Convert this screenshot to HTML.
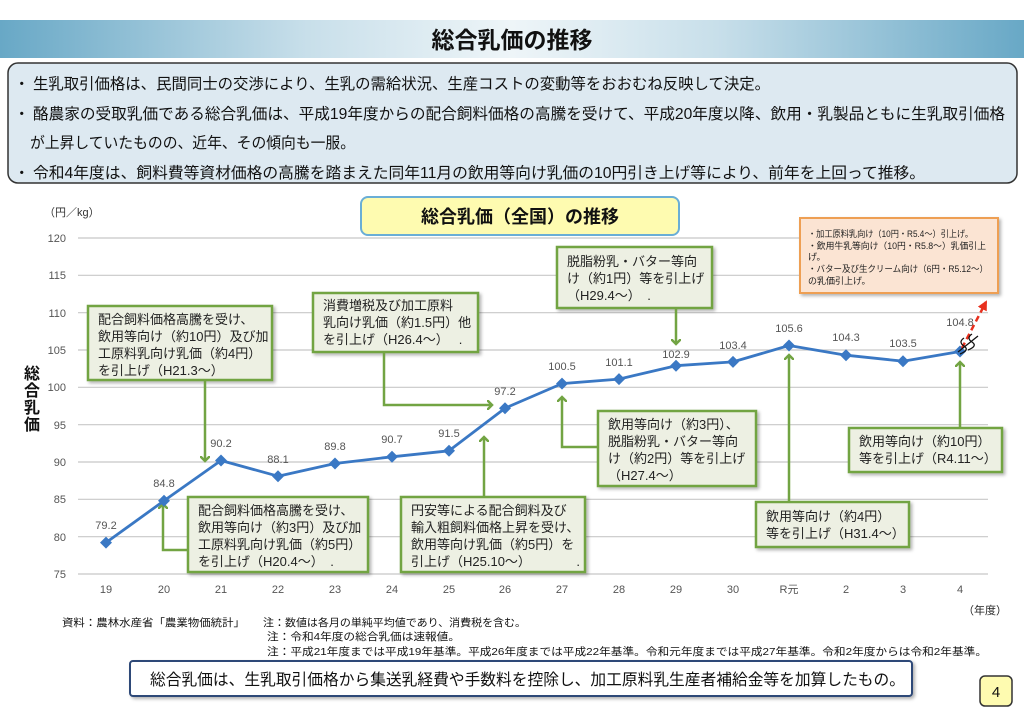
<!DOCTYPE html>
<html><head><meta charset="utf-8"><style>
html,body{margin:0;padding:0;background:#fff;}
svg{display:block;}
text{font-family:"Liberation Sans","Noto Sans CJK JP",sans-serif;}
</style></head><body>
<svg width="1024" height="708" viewBox="0 0 1024 708" xmlns="http://www.w3.org/2000/svg">
<defs>
<linearGradient id="tg" x1="0" x2="1" y1="0" y2="0">
<stop offset="0" stop-color="#68a8c6"/><stop offset="0.3" stop-color="#c8dfea"/><stop offset="0.5" stop-color="#eef5f8"/><stop offset="0.7" stop-color="#c8dfea"/><stop offset="1" stop-color="#68a8c6"/>
</linearGradient>
<marker id="ga" markerWidth="10" markerHeight="10" refX="5" refY="5" orient="auto" markerUnits="userSpaceOnUse">
<path d="M0,0 L5,5 L0,10" fill="none" stroke="#72a443" stroke-width="2.5"/>
</marker>
<marker id="ra" markerWidth="10" markerHeight="10" refX="8" refY="5" orient="auto" markerUnits="userSpaceOnUse">
<path d="M0,0 L10,5 L0,10 z" fill="#e8301e"/>
</marker>
<filter id="sh" x="-5%" y="-5%" width="115%" height="125%"><feDropShadow dx="2" dy="2" stdDeviation="1.5" flood-color="#000" flood-opacity="0.3"/></filter>
</defs>

<rect x="0" y="20" width="1024" height="38" fill="url(#tg)"/>
<text x="512" y="48" font-size="23" font-weight="bold" text-anchor="middle" fill="#111">総合乳価の推移</text>

<rect x="8" y="63" width="1009" height="120" rx="10" fill="#dde9f1" stroke="#333" stroke-width="1.5"/>
<g font-size="15.5" fill="#111">
<text x="14" y="89">・</text><text x="33" y="89" textLength="737" lengthAdjust="spacingAndGlyphs">生乳取引価格は、民間同士の交渉により、生乳の需給状況、生産コストの変動等をおおむね反映して決定。</text>
<text x="14" y="119">・</text><text x="33" y="119" textLength="972" lengthAdjust="spacingAndGlyphs">酪農家の受取乳価である総合乳価は、平成19年度からの配合飼料価格の高騰を受けて、平成20年度以降、飲用・乳製品ともに生乳取引価格</text>
<text x="30" y="148" textLength="325" lengthAdjust="spacingAndGlyphs">が上昇していたものの、近年、その傾向も一服。</text>
<text x="14" y="178">・</text><text x="33" y="178" textLength="892" lengthAdjust="spacingAndGlyphs">令和4年度は、飼料費等資材価格の高騰を踏まえた同年11月の飲用等向け乳価の10円引き上げ等により、前年を上回って推移。</text>
</g>

<rect x="361" y="197" width="318" height="38" rx="7" fill="#fefbb0" stroke="#6aaed6" stroke-width="2"/>
<text x="520" y="223" font-size="18" font-weight="bold" text-anchor="middle" fill="#111">総合乳価（全国）の推移</text>

<text x="44" y="216" font-size="11" fill="#333">（円／kg）</text>

<g stroke="#c8c8c8" stroke-width="1.2">
<line x1="78" x2="988" y1="238" y2="238"/><line x1="78" x2="988" y1="275.3" y2="275.3"/>
<line x1="78" x2="988" y1="312.7" y2="312.7"/><line x1="78" x2="988" y1="350" y2="350"/>
<line x1="78" x2="988" y1="387.3" y2="387.3"/><line x1="78" x2="988" y1="424.7" y2="424.7"/>
<line x1="78" x2="988" y1="462" y2="462"/><line x1="78" x2="988" y1="499.3" y2="499.3"/>
<line x1="78" x2="988" y1="536.7" y2="536.7"/><line x1="78" x2="988" y1="574" y2="574"/>
</g>
<g font-size="11" fill="#555" text-anchor="end">
<text x="66" y="242">120</text><text x="66" y="279">115</text><text x="66" y="317">110</text>
<text x="66" y="354">105</text><text x="66" y="391">100</text><text x="66" y="429">95</text>
<text x="66" y="466">90</text><text x="66" y="503">85</text><text x="66" y="541">80</text><text x="66" y="578">75</text>
</g>
<g font-size="16" font-weight="bold" fill="#111" text-anchor="middle">
<text x="32" y="379">総</text><text x="32" y="396">合</text><text x="32" y="413">乳</text><text x="32" y="430">価</text>
</g>
<g font-size="11" fill="#555" text-anchor="middle">
<text x="106" y="593">19</text><text x="164" y="593">20</text><text x="221" y="593">21</text><text x="278" y="593">22</text>
<text x="335" y="593">23</text><text x="392" y="593">24</text><text x="449" y="593">25</text><text x="505" y="593">26</text>
<text x="562" y="593">27</text><text x="619" y="593">28</text><text x="676" y="593">29</text><text x="733" y="593">30</text>
<text x="789" y="593">R元</text><text x="846" y="593">2</text><text x="903" y="593">3</text><text x="960" y="593">4</text>
</g>
<text x="985" y="614" font-size="11" fill="#222" text-anchor="middle">（年度）</text>

<g font-size="13" fill="#222">
<g filter="url(#sh)" fill="#edf0e3" stroke="#72a443" stroke-width="2.5">
<rect x="88" y="306" width="184" height="74"/>
<rect x="313" y="293" width="165" height="59"/>
<rect x="188" y="497" width="180" height="75"/>
<rect x="401" y="497" width="184" height="75"/>
<rect x="557" y="247" width="155" height="61"/>
<rect x="598" y="411" width="158" height="75"/>
<rect x="756" y="502" width="153" height="45"/>
<rect x="849" y="428" width="153" height="44"/>
</g>
<g fill="none" stroke="#72a443" stroke-width="2.5">
<path d="M205,380 L205,461" marker-end="url(#ga)"/>
<path d="M384,352 L384,405 L492,405" marker-end="url(#ga)"/>
<path d="M188,550 L163,550 L163,504" marker-end="url(#ga)"/>
<path d="M484,497 L484,437" marker-end="url(#ga)"/>
<path d="M676,308 L676,344" marker-end="url(#ga)"/>
<path d="M598,447 L562,447 L562,397" marker-end="url(#ga)"/>
<path d="M789,502 L789,355" marker-end="url(#ga)"/>
<path d="M960,428 L960,362" marker-end="url(#ga)"/>
</g>
<text x="98" y="324">配合飼料価格高騰を受け、</text>
<text x="98" y="341">飲用等向け（約10円）及び加</text>
<text x="98" y="358">工原料乳向け乳価（約4円）</text>
<text x="98" y="375">を引上げ（H21.3～）</text>
<text x="323" y="310">消費増税及び加工原料</text>
<text x="323" y="327">乳向け乳価（約1.5円）他</text>
<text x="323" y="344">を引上げ（H26.4～）　 .</text>
<text x="198" y="515">配合飼料価格高騰を受け、</text>
<text x="198" y="532">飲用等向け（約3円）及び加</text>
<text x="198" y="549">工原料乳向け乳価（約5円）</text>
<text x="198" y="566">を引上げ（H20.4～）　.</text>
<text x="411" y="515">円安等による配合飼料及び</text>
<text x="411" y="532">輸入粗飼料価格上昇を受け、</text>
<text x="411" y="549">飲用等向け乳価（約5円）を</text>
<text x="411" y="566">引上げ（H25.10～）　　　　.</text>
<text x="567" y="266">脱脂粉乳・バター等向</text>
<text x="567" y="283">け（約1円）等を引上げ</text>
<text x="567" y="300">（H29.4～）　.</text>
<text x="608" y="429">飲用等向け（約3円）、</text>
<text x="608" y="446">脱脂粉乳・バター等向</text>
<text x="608" y="463">け（約2円）等を引上げ</text>
<text x="608" y="480">（H27.4～）</text>
<text x="766" y="521">飲用等向け（約4円）</text>
<text x="766" y="538">等を引上げ（H31.4～）</text>
<text x="859" y="446">飲用等向け（約10円）</text>
<text x="859" y="463">等を引上げ（R4.11～）</text>
</g>

<rect x="800" y="218" width="198" height="75" fill="#fbe4d3" stroke="#ee9f52" stroke-width="2" filter="url(#sh)"/>
<g font-size="9" fill="#222">
<text x="808" y="237" textLength="165" lengthAdjust="spacingAndGlyphs">・加工原料乳向け（10円・R5.4～）引上げ。</text>
<text x="808" y="249" textLength="178" lengthAdjust="spacingAndGlyphs">・飲用牛乳等向け（10円・R5.8～）乳価引上</text>
<text x="808" y="260">げ。</text>
<text x="808" y="272" textLength="180" lengthAdjust="spacingAndGlyphs">・バター及び生クリーム向け（6円・R5.12～）</text>
<text x="808" y="284">の乳価引上げ。</text>
</g>

<polyline fill="none" stroke="#3a78c4" stroke-width="2.8" stroke-linejoin="round"
points="106,542.6 164,500.8 221,460.5 278,476.2 335,463.5 392,456.8 449,450.8 505,408.2 562,383.6 619,379.1 676,365.7 733,361.9 789,345.5 846,355.2 903,361.2 960,351.5"/>
<g fill="#3a78c4">
<path d="M106,536.6 l6,6 -6,6 -6,-6z"/><path d="M164,494.8 l6,6 -6,6 -6,-6z"/><path d="M221,454.5 l6,6 -6,6 -6,-6z"/>
<path d="M278,470.2 l6,6 -6,6 -6,-6z"/><path d="M335,457.5 l6,6 -6,6 -6,-6z"/><path d="M392,450.8 l6,6 -6,6 -6,-6z"/>
<path d="M449,444.8 l6,6 -6,6 -6,-6z"/><path d="M505,402.2 l6,6 -6,6 -6,-6z"/><path d="M562,377.6 l6,6 -6,6 -6,-6z"/>
<path d="M619,373.1 l6,6 -6,6 -6,-6z"/><path d="M676,359.7 l6,6 -6,6 -6,-6z"/><path d="M733,355.9 l6,6 -6,6 -6,-6z"/>
<path d="M789,339.5 l6,6 -6,6 -6,-6z"/><path d="M846,349.2 l6,6 -6,6 -6,-6z"/><path d="M903,355.2 l6,6 -6,6 -6,-6z"/>
<path d="M960,345.5 l6,6 -6,6 -6,-6z"/>
</g>
<g font-size="11" fill="#555" text-anchor="middle">
<text x="106" y="529">79.2</text><text x="164" y="487">84.8</text><text x="221" y="447">90.2</text>
<text x="278" y="463">88.1</text><text x="335" y="450">89.8</text><text x="392" y="443">90.7</text>
<text x="449" y="437">91.5</text><text x="505" y="395">97.2</text><text x="562" y="370">100.5</text>
<text x="619" y="366">101.1</text><text x="676" y="358">102.9</text><text x="733" y="349">103.4</text>
<text x="789" y="332">105.6</text><text x="846" y="341">104.3</text><text x="903" y="347">103.5</text>
<text x="960" y="326">104.8</text>
</g>
<line x1="962" y1="348" x2="986" y2="302" stroke="#e8301e" stroke-width="2.5" stroke-dasharray="6,4" marker-end="url(#ra)"/>
<path d="M964,338 q-6,4 0,8 q6,4 -4,8 M972,334 q-6,4 0,8 q6,4 -4,8 M958,352 L978,336" fill="none" stroke="#111" stroke-width="1.3"/>

<g font-size="10.5" fill="#111">
<text x="62" y="626" textLength="183" lengthAdjust="spacingAndGlyphs">資料：農林水産省「農業物価統計」</text>
<text x="263" y="626" textLength="263" lengthAdjust="spacingAndGlyphs">注：数値は各月の単純平均値であり、消費税を含む。</text>
<text x="267" y="640" textLength="193" lengthAdjust="spacingAndGlyphs">注：令和4年度の総合乳価は速報値。</text>
<text x="267" y="655" textLength="720" lengthAdjust="spacingAndGlyphs">注：平成21年度までは平成19年基準。平成26年度までは平成22年基準。令和元年度までは平成27年基準。令和2年度からは令和2年基準。</text>
</g>

<rect x="130" y="661" width="782" height="35" rx="3" fill="#fff" stroke="#2f4a78" stroke-width="2" filter="url(#sh)"/>
<text x="150" y="685" font-size="16" fill="#111" textLength="755" lengthAdjust="spacingAndGlyphs">総合乳価は、生乳取引価格から集送乳経費や手数料を控除し、加工原料乳生産者補給金等を加算したもの。</text>
<rect x="980" y="676" width="32" height="30" rx="5" fill="#fefbb0" stroke="#333" stroke-width="1.5"/>
<text x="996" y="697" font-size="15" text-anchor="middle" fill="#111">4</text>
</svg>
</body></html>
